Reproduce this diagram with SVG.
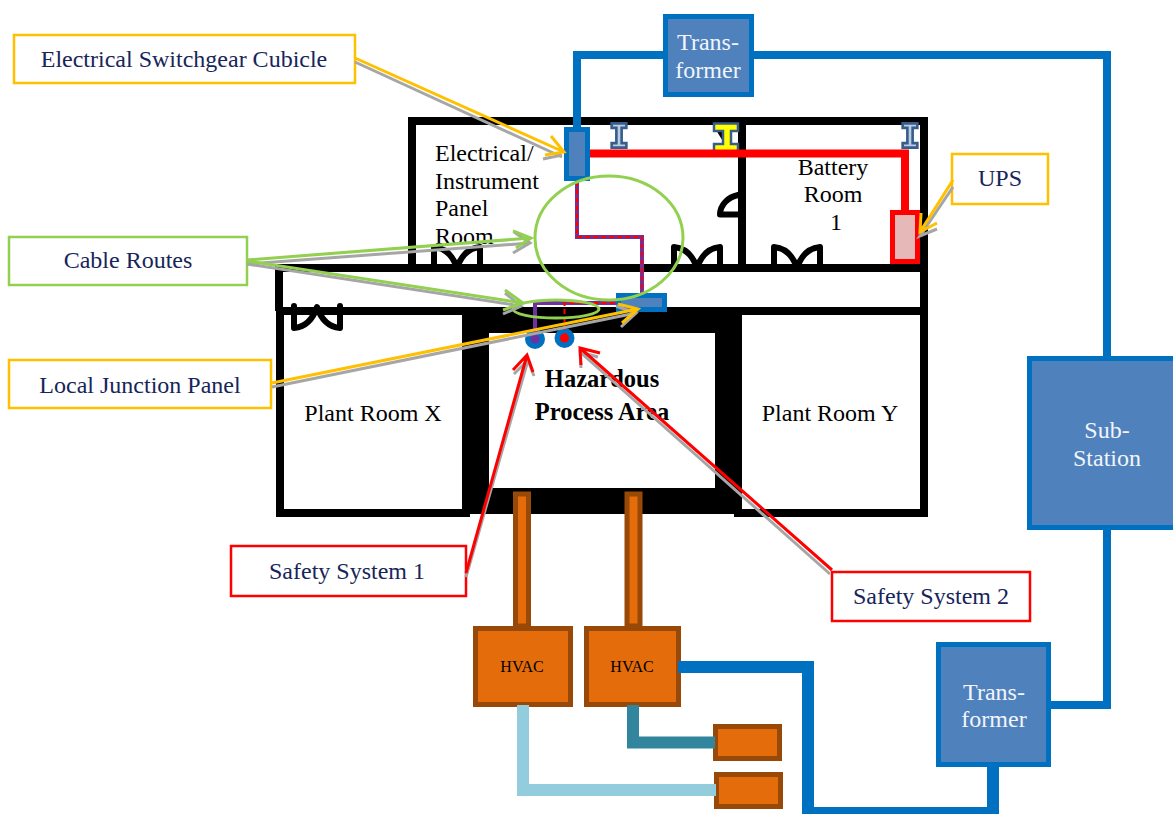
<svg xmlns="http://www.w3.org/2000/svg" width="1173" height="814" viewBox="0 0 1173 814">
<defs>
<style>
text{font-family:"Liberation Serif","Times New Roman",serif;font-size:24px;fill:#000;text-anchor:middle}
.lbl{fill:#17255a}
.st{text-anchor:start}
.b{font-weight:bold;font-size:24.500px}
.wt{fill:#f2f5fa}
.sm{font-size:16px}
.w{fill:#fff}
.k{fill:#000}
.wall{fill:none;stroke:#000;stroke-width:8}
.door{fill:none;stroke:#000;stroke-width:6;stroke-linejoin:round;stroke-linecap:round}
.box{fill:#4f81bd;stroke:#0070c0;stroke-width:5}
.hv{fill:#e46c0a;stroke:#984807;stroke-width:5}
.ib{fill:#b9cde5;stroke:#385d8a;stroke-width:2.5}
.tag{fill:#fff;stroke-width:2.5}
.y{stroke:#ffc000}
.g{stroke:#92d050}
.r{stroke:#f00}
.ln{fill:none}
</style>
<path id="dr" class="door" d="M3 25V3C14 4 22 12 26 24C30 12 38 4 49 3V25"/>
<path id="ibeam" d="M-7 -11H7V-7H2.5V7H7V11H-7V7H-2.5V-7H-7Z"/>
</defs>

<g id="electrical-room"><path class="wall" d="M412 268V121H924V268"/><path class="wall" d="M742 117V272"/></g>
<g id="corridor"><path class="wall" d="M279 311V268H924V311H279"/></g>
<g id="plant-room-x"><rect class="wall" x="280" y="311" width="186" height="202"/><text x="373" y="421">Plant Room X</text></g>
<g id="plant-room-y"><rect class="wall" x="738" y="311" width="186" height="202"/><text x="830" y="421">Plant Room Y</text></g>
<g id="hazardous-area"><rect class="k" x="462" y="307" width="280" height="207"/><rect class="w" x="489" y="333" width="226" height="155"/></g>

<g id="doors">
<use href="#dr" x="431" y="244"/>
<use href="#dr" x="771" y="244"/>
<use href="#dr" x="671" y="244"/>
<path class="door" d="M738 214.500H720C720 205 728 197 738 195"/>
<use href="#dr" transform="translate(291 331) scale(1 -1)"/>
</g>

<g id="room-labels">
<text x="435" y="161" class="st">Electrical/</text>
<text x="435" y="189" class="st">Instrument</text>
<text x="435" y="216" class="st">Panel</text>
<text x="435" y="244" class="st">Room</text>
<text x="833" y="175">Battery</text>
<text x="833" y="202">Room</text>
<text x="836" y="230">1</text>
<text x="602" y="387" class="b">Hazardous</text>
<text x="602" y="420" class="b">Process Area</text>
</g>

<g id="beams">
<use href="#ibeam" transform="translate(619 135.500) scale(1.050 1.100)" class="ib"/>
<use href="#ibeam" transform="translate(910 135.500) scale(1.050 1.100)" class="ib"/>
<path class="k" d="M716 130H724V143Z"/>
<path d="M714 123.500H738V131H731V144H738V151.500H714V144H723V131H714Z" fill="#ff0" stroke="#385d8a" stroke-width="2.500"/>
</g>

<g id="switchgear-cubicle"><rect class="box" x="566.500" y="129.500" width="21" height="49"/></g>
<g id="ups"><rect x="892.500" y="212.500" width="25" height="49" fill="#e6b9b8" stroke="#f00" stroke-width="5"/></g>
<g id="junction-panel"><rect class="box" x="618.500" y="295.500" width="46" height="14"/></g>
<g id="safety-system-1-sensor"><circle cx="535" cy="339" r="10" fill="#0070c0"/><circle cx="535" cy="339" r="4.500" fill="#7030a0"/></g>
<g id="safety-system-2-sensor"><circle cx="564.500" cy="338" r="10" fill="#0070c0"/><circle cx="564.500" cy="338" r="4.500" fill="#f00"/></g>

<g id="transformer-1"><rect class="box" x="665.500" y="16.500" width="86" height="78"/><text x="708" y="50" class="wt">Trans-</text><text x="708" y="78" class="wt">former</text></g>
<g id="sub-station"><rect class="box" x="1029.500" y="358.500" width="150" height="169"/><text x="1107" y="438" class="wt">Sub-</text><text x="1107" y="466" class="wt">Station</text></g>
<g id="transformer-2"><rect class="box" x="938.500" y="644.500" width="110" height="120"/><text x="994" y="700" class="wt">Trans-</text><text x="994" y="727" class="wt">former</text></g>

<g id="hvac-1"><rect class="hv" x="475.500" y="628.500" width="95" height="76"/><text x="522" y="672" class="sm">HVAC</text></g>
<g id="hvac-2"><rect class="hv" x="586.500" y="628.500" width="92" height="76"/><text x="632" y="672" class="sm">HVAC</text></g>
<g id="hvac-unit-3"><rect class="hv" x="715.500" y="726.500" width="64" height="32"/></g>
<g id="hvac-unit-4"><rect class="hv" x="716.500" y="774.500" width="64" height="32"/></g>

<g id="label-switchgear"><rect class="tag y" x="14" y="35" width="341" height="48"/><text class="lbl" x="184" y="67">Electrical Switchgear Cubicle</text></g>
<g id="label-cable-routes"><rect class="tag g" x="9" y="237" width="238" height="48"/><text class="lbl" x="128" y="268">Cable Routes</text></g>
<g id="label-junction"><rect class="tag y" x="9" y="360" width="262" height="48"/><text class="lbl" x="140" y="393">Local Junction Panel</text></g>
<g id="label-ups"><rect class="tag y" x="952" y="154" width="96" height="50"/><text class="lbl" x="1000" y="186">UPS</text></g>
<g id="label-safety-1"><rect class="tag r" x="231" y="546" width="235" height="50"/><text class="lbl" x="347" y="579">Safety System 1</text></g>
<g id="label-safety-2"><rect class="tag r" x="832" y="572" width="198" height="49"/><text class="lbl" x="931" y="604">Safety System 2</text></g>

<g id="connectors">
<path class="ln" stroke="#0070c0" stroke-width="8" d="M577 127V55H663M754 55H1107V357M1107 530V705H1051"/>
<path class="ln" stroke="#0070c0" stroke-width="12" d="M678 667H808V813H993V767"/>
<path class="ln" stroke="#f00" stroke-width="8" d="M590 153.500H905V210"/>
<path class="ln" stroke="#7030a0" stroke-width="4" d="M577 181V237H642V293"/>
<path class="ln" stroke="#f00" stroke-width="2" stroke-dasharray="5 3" d="M577 181V237H642V293"/>
<path class="ln" stroke="#7030a0" stroke-width="4" d="M535 339V303H616"/>
<path class="ln" stroke="#f00" stroke-width="2" stroke-dasharray="5 3" d="M564.500 338V303H616"/>
<rect x="515.500" y="494" width="13" height="132" fill="#e46c0a" stroke="#984807" stroke-width="5"/>
<rect x="627" y="494" width="13" height="132" fill="#e46c0a" stroke="#984807" stroke-width="5"/>
<path class="ln" stroke="#31859c" stroke-width="12" d="M633 705V742.500H715"/>
<path class="ln" stroke="#93cddd" stroke-width="12" d="M523 705V790H716"/>
<ellipse class="ln g" cx="609" cy="238" rx="74" ry="62" stroke-width="3"/>
<ellipse class="ln g" cx="556" cy="309" rx="43" ry="9" stroke-width="3"/>
<g class="ln" stroke="#a6a6a6" stroke-width="3">
<path d="M355 62L562 157M543 159L562 155"/>
<path d="M247 264L530 243M514 232L530 243L513 253"/>
<path d="M247 264L521 306M505 293L521 306L503 314"/>
<path d="M272 387L636 313M616 306L636 313L621 327"/>
<path d="M953 187L920 236L937 229"/>
<path d="M466 577L528 360M514 374L528 360L534 376"/>
<path d="M830 574L580 352M581 368L580 352L598 357"/>
</g>
<g class="ln" stroke-width="3">
<path class="y" d="M355 58L564 152M551 136L564 152L545 155"/>
<path class="g" d="M247 260L531 238M513 231L531 238L516 248"/>
<path class="g" d="M247 261L523 303M505 290L523 303L503 310"/>
<path class="y" d="M272 383L638 309M618 304L638 309L622 323"/>
<path class="y" d="M953 180L920 232M921 213L920 232L937 223"/>
<path class="r" d="M466 573L527 355M513 370L527 355L533 372"/>
<path class="r" d="M832 570L580 348M581 365L580 348L600 353"/>
</g>
</g>
</svg>
